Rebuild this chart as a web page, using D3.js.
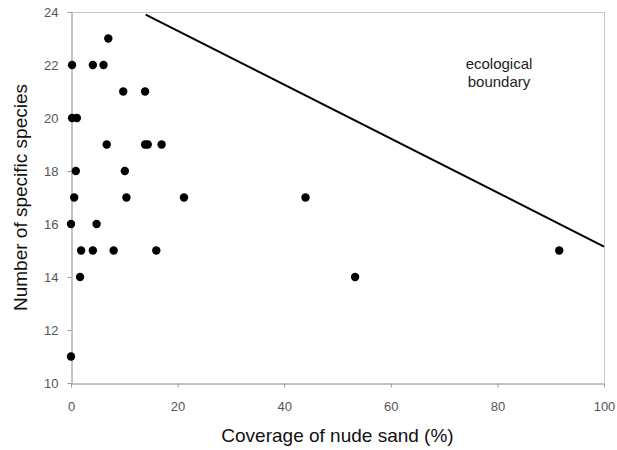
<!DOCTYPE html>
<html>
<head>
<meta charset="utf-8">
<script src="https://cdn.jsdelivr.net/npm/d3@7"></script>
<style>
  body { margin: 0; background: #fff; }
  svg { display: block; font-family: Arial, "Liberation Sans", sans-serif; }
</style>
</head>
<body>
<script>
// sand coverage (%) and number of specific species per plot
var sandCover = [0.2, 4.1, 6.1, 7.0, 9.8, 13.9, 0.2, 1.1, 6.7, 13.9, 14.4, 17.0, 0.9, 10.1,
                 0.6, 10.4, 21.2, 44.0, 0.0, 4.8, 1.9, 4.1, 8.0, 16.0, 91.6, 1.7, 53.3, 0.0];
var species   = [22, 22, 22, 23, 21, 21, 20, 20, 19, 19, 19, 19, 18, 18,
                 17, 17, 17, 17, 16, 16, 15, 15, 15, 15, 15, 14, 14, 11];

// boundary line end points
var boundaryX = [14, 100];
var boundaryY = [23.9, 15.15];

var xTicks = [0, 20, 40, 60, 80, 100];
var yTicks = [10, 12, 14, 16, 18, 20, 22, 24];

var w = 617;
var h = 450;
// plot edges (note: "top" would clash with window.top)
var pLeft = 71, pRight = 604, pTop = 12, pBottom = 383;

var svg = d3.select("body")
            .append("svg")
            .attr("width", w)
            .attr("height", h);

var x = d3.scaleLinear().domain([0, 100]).range([pLeft, pRight]);
var y = d3.scaleLinear().domain([10, 24]).range([pBottom, pTop]);

// light frame on top and right
svg.append("line")
   .attr("x1", pLeft).attr("x2", pRight)
   .attr("y1", pTop + 0.5).attr("y2", pTop + 0.5)
   .attr("stroke", "#c8c8c8");
svg.append("line")
   .attr("x1", pRight + 0.5).attr("x2", pRight + 0.5)
   .attr("y1", pTop).attr("y2", pBottom)
   .attr("stroke", "#c8c8c8");

var xAxis = svg.append("g")
   .attr("transform", "translate(0," + (pBottom + 0.5) + ")")
   .call(d3.axisBottom(x).tickValues(xTicks).tickSize(4).tickSizeOuter(0));
var yAxis = svg.append("g")
   .attr("transform", "translate(" + (pLeft + 0.5) + ",0)")
   .call(d3.axisLeft(y).tickValues(yTicks).tickSize(4).tickSizeOuter(0));

[xAxis, yAxis].forEach(function(a) {
	a.select(".domain").attr("stroke", "#888");
	a.selectAll(".tick line").attr("stroke", "#999");
	a.selectAll(".tick text")
	 .attr("fill", "#555")
	 .attr("font-size", "13px")
	 .attr("font-family", "Arial, 'Liberation Sans', sans-serif");
});
xAxis.selectAll(".tick text").attr("y", 27).attr("dy", null);
yAxis.selectAll(".tick text").attr("x", -13);

// boundary line
svg.append("line")
   .attr("x1", x(boundaryX[0])).attr("y1", y(boundaryY[0]))
   .attr("x2", x(boundaryX[1])).attr("y2", y(boundaryY[1]))
   .attr("stroke", "#000")
   .attr("stroke-width", 2);

svg.selectAll("circle")
   .data(sandCover)
   .enter()
   .append("circle")
   .attr("cx", function(d) { return x(d); })
   .attr("cy", function(d, i) { return y(species[i]); })
   .attr("r", 4.2)
   .attr("fill", "#000");

svg.append("text")
   .attr("x", 499).attr("y", 69)
   .attr("text-anchor", "middle")
   .attr("font-size", "15px")
   .attr("fill", "#222")
   .text("ecological");
svg.append("text")
   .attr("x", 499).attr("y", 87)
   .attr("text-anchor", "middle")
   .attr("font-size", "15px")
   .attr("fill", "#222")
   .text("boundary");

svg.append("text")
   .attr("x", (pLeft + pRight) / 2)
   .attr("y", 442)
   .attr("text-anchor", "middle")
   .attr("font-size", "19px")
   .attr("fill", "#111")
   .text("Coverage of nude sand (%)");

svg.append("text")
   .attr("transform", "translate(27," + ((pTop + pBottom) / 2) + ") rotate(-90)")
   .attr("text-anchor", "middle")
   .attr("font-size", "19px")
   .attr("fill", "#111")
   .text("Number of specific species");
</script>
</body>
</html>
